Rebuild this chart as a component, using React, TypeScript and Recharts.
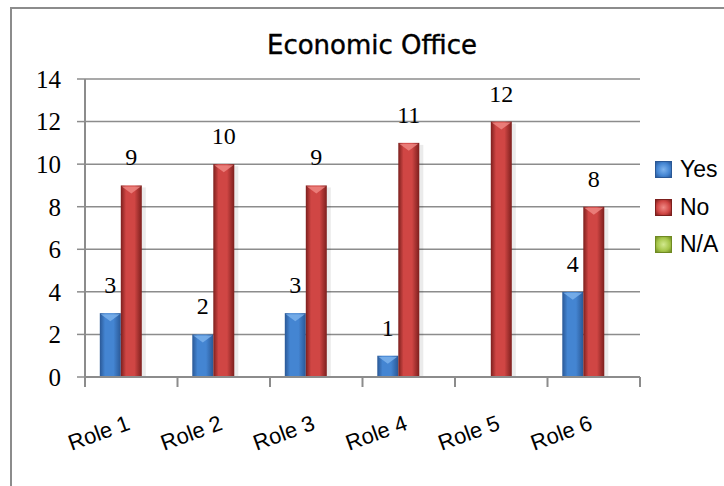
import React from "react"
import { BarChart, Bar, XAxis, YAxis, CartesianGrid, LabelList } from "recharts"

const roles = ["Role 1", "Role 2", "Role 3", "Role 4", "Role 5", "Role 6"]
const yes = [3, 2, 3, 1, 0, 4]
const no = [9, 10, 9, 11, 12, 8]
const na = [0, 0, 0, 0, 0, 0]
const yTicks = [0, 2, 4, 6, 8, 10, 12, 14]

const data = roles.map((role, i) => ({ role, yes: yes[i], no: no[i], na: na[i] }))

const series = [
  { key: "yes", name: "Yes", id: "gBlue", dark: "#2a5896", mid: "#4485d2", light: "#7fb4ee" },
  { key: "no", name: "No", id: "gRed", dark: "#7c1f1d", mid: "#d04644", light: "#f08a86" },
  { key: "na", name: "N/A", id: "gGreen", dark: "#6f8a22", mid: "#a6c64a", light: "#d2e98e" },
]

const gray = "#8c8c8c"

function BevelBar(props: any) {
  const { x, y, width, height, id, light } = props
  if (!height || height <= 0) return null
  return (
    <g>
      <rect x={x + width} y={y + 2} width={4} height={height - 2} fill="#000" opacity={0.08} />
      <rect x={x} y={y} width={width} height={height} fill={`url(#${id})`} />
      <polygon
        points={`${x + 1},${y + 1} ${x + width - 1},${y + 1} ${x + width / 2},${y + 8}`}
        fill={light}
        opacity={0.8}
      />
    </g>
  )
}

function RoleTick(props: any) {
  const { x, y, payload, index } = props
  const band = (640 - 85) / roles.length
  return (
    <g>
      <line x1={x - band / 2} y1={y} x2={x - band / 2} y2={y + 10} stroke={gray} strokeWidth={2} />
      {index === roles.length - 1 && (
        <line x1={x + band / 2} y1={y} x2={x + band / 2} y2={y + 10} stroke={gray} strokeWidth={2} />
      )}
      <text
        x={x}
        y={y + 52}
        textAnchor="end"
        transform={`rotate(-20, ${x}, ${y + 52})`}
        fontFamily="'Liberation Sans', Arial, sans-serif"
        fontSize={22}
        fill="#000"
      >
        {payload.value}
      </text>
    </g>
  )
}

function LegendBox() {
  return (
    <div
      style={{
        position: "absolute",
        left: 655,
        top: 151,
        fontFamily: "'Liberation Sans', Arial, sans-serif",
        fontSize: 23,
        color: "#000",
      }}
    >
      {series.map((s) => (
        <div key={s.key} style={{ display: "flex", alignItems: "center", height: 37.5 }}>
          <div
            style={{
              width: 15,
              height: 15,
              marginRight: 8,
              border: `1px solid ${s.dark}`,
              background: `radial-gradient(circle, ${s.light} 0%, ${s.mid} 60%, ${s.dark} 100%)`,
            }}
          />
          <span>{s.name}</span>
        </div>
      ))}
    </div>
  )
}

export default function App() {
  return (
    <div style={{ position: "absolute", left: 0, top: 0, width: 724, height: 486, background: "#fff", overflow: "hidden" }}>
      <div
        style={{
          position: "absolute",
          left: 10,
          top: 7,
          width: 720,
          height: 490,
          borderTop: `2px solid ${gray}`,
          borderLeft: `2px solid ${gray}`,
        }}
      />
      <div
        style={{
          position: "absolute",
          left: 0,
          width: 744,
          top: 30,
          textAlign: "center",
          fontFamily: "'DejaVu Sans', sans-serif",
          fontSize: 26,
          color: "#000",
          WebkitTextStroke: "0.4px #000",
        }}
      >
        Economic Office
      </div>
      <BarChart
        width={724}
        height={486}
        data={data}
        margin={{ top: 79, right: 84, bottom: 0, left: 0 }}
        barCategoryGap="16%"
        barGap={0}
        style={{ position: "absolute", left: 0, top: 0 }}
      >
        <defs>
          {series.map((s) => (
            <linearGradient key={s.id} id={s.id} x1="0" y1="0" x2="1" y2="0">
              <stop offset="0%" stopColor={s.dark} />
              <stop offset="25%" stopColor={s.mid} />
              <stop offset="65%" stopColor={s.mid} />
              <stop offset="100%" stopColor={s.dark} />
            </linearGradient>
          ))}
        </defs>
        <CartesianGrid vertical={false} stroke={gray} strokeWidth={1.5} />
        <XAxis
          dataKey="role"
          height={109}
          tickSize={0}
          tickMargin={0}
          tickLine={false}
          axisLine={{ stroke: gray, strokeWidth: 2 }}
          tick={<RoleTick />}
          interval={0}
        />
        <YAxis
          width={85}
          domain={[0, 14]}
          ticks={yTicks}
          interval={0}
          tickSize={8}
          tickMargin={16}
          axisLine={{ stroke: gray, strokeWidth: 2 }}
          tickLine={{ stroke: gray, strokeWidth: 1.5 }}
          tick={{ fontFamily: "'Liberation Serif', 'Times New Roman', serif", fontSize: 25, fill: "#000" }}
        />
        {series.map((s) => (
          <Bar
            key={s.key}
            dataKey={s.key}
            name={s.name}
            fill={s.mid}
            isAnimationActive={false}
            shape={(p: any) => <BevelBar {...p} id={s.id} light={s.light} />}
          >
            <LabelList
              dataKey={s.key}
              position="top"
              offset={20}
              formatter={(v: any) => (v ? v : "")}
              style={{ fontFamily: "'Liberation Serif', 'Times New Roman', serif", fontSize: 24, fill: "#000" }}
            />
          </Bar>
        ))}
      </BarChart>
      <LegendBox />
    </div>
  )
}
